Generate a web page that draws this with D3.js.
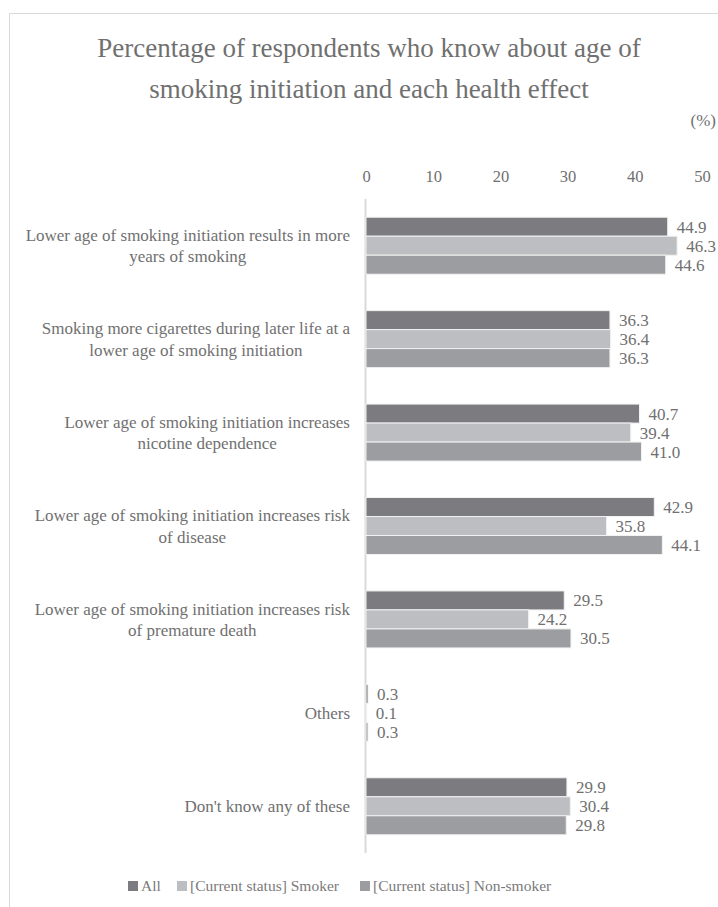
<!DOCTYPE html>
<html>
<head>
<meta charset="utf-8">
<script src="https://cdn.jsdelivr.net/npm/d3@7"></script>
<style>
  html, body { margin: 0; padding: 0; background: #fff; }
  svg { display: block; }
  svg text { font-family: "Liberation Serif", "Times New Roman", "DejaVu Serif", "Noto Serif", serif; }
</style>
</head>
<body>
<svg id="chart" width="718" height="907"></svg>
<script>
const categories = [
  ["Lower age of smoking initiation results in more", "years of smoking"],
  ["Smoking more cigarettes during later life at a", "lower age of smoking initiation"],
  ["Lower age of smoking initiation increases", "nicotine dependence"],
  ["Lower age of smoking initiation increases risk", "of disease"],
  ["Lower age of smoking initiation increases risk", "of premature death"],
  ["Others"],
  ["Don't know any of these"]
];
const seriesNames = ["All", "[Current status] Smoker", "[Current status] Non-smoker"];
const allValues       = [44.9, 36.3, 40.7, 42.9, 29.5, 0.3, 29.9];
const smokerValues    = [46.3, 36.4, 39.4, 35.8, 24.2, 0.1, 30.4];
const nonSmokerValues = [44.6, 36.3, 41.0, 44.1, 30.5, 0.3, 29.8];
const tickValues = [0, 10, 20, 30, 40, 50];
const colors = ["#7b7b80", "#bdbec2", "#9c9da1"];

const series = [allValues, smokerValues, nonSmokerValues];
const svg = d3.select("#chart");
const textColor = "#707070";

// outer frame
svg.append("path")
  .attr("d", "M9.5,907 V13.5 H718")
  .attr("fill", "none").attr("stroke", "#d9d9d9").attr("stroke-width", 1);

// title
const title = svg.append("text")
  .attr("text-anchor", "middle").attr("fill", "#707070")
  .attr("font-size", 27);
title.append("tspan").attr("x", 369).attr("y", 57).text("Percentage of respondents who know about age of");
title.append("tspan").attr("x", 369).attr("y", 98).text("smoking initiation and each health effect");

svg.append("text").attr("x", 716).attr("y", 126).attr("text-anchor", "end")
  .attr("fill", textColor).attr("font-size", 17).text("(%)");

const x = d3.scaleLinear().domain([0, 50]).range([366, 702]);
const y = d3.scaleBand().domain(d3.range(categories.length)).range([199, 853]).paddingInner(0.39).paddingOuter(0.195);
const yInner = d3.scaleBand().domain(d3.range(series.length)).range([0, y.bandwidth()]);

// top axis labels
const axis = d3.axisTop(x).tickValues(tickValues).tickSize(0).tickPadding(0).tickFormat(d3.format("d"));
const ax = svg.append("g").attr("transform", "translate(0,182)").call(axis);
ax.attr("font-family", null);
ax.select(".domain").remove();
ax.selectAll("text").attr("font-size", 16.5).attr("fill", textColor);

// vertical baseline
svg.append("line").attr("x1", x(0) - 0.5).attr("x2", x(0) - 0.5).attr("y1", 199).attr("y2", 853)
  .attr("stroke", "#d9d9d9").attr("stroke-width", 2);

// bars
series.forEach((vals, s) => {
  const g = svg.append("g");
  g.selectAll("rect").data(vals).join("rect")
    .attr("x", x(0))
    .attr("y", (d, i) => y(i) + yInner(s))
    .attr("width", d => x(d) - x(0))
    .attr("height", yInner.bandwidth())
    .attr("fill", colors[s])
    .attr("stroke", "#f2f2f2").attr("stroke-width", 1);
  g.selectAll("text").data(vals).join("text")
    .attr("x", d => x(d) + 9)
    .attr("y", (d, i) => y(i) + yInner(s) + yInner.bandwidth() / 2)
    .attr("dy", "0.35em")
    .attr("font-size", 17).attr("fill", textColor)
    .text(d => d.toFixed(1));
});

// category labels: block right-aligned to the axis, lines centred within the block
categories.forEach((lines, i) => {
  const cy = y(i) + y.bandwidth() / 2;
  const t = svg.append("text").attr("text-anchor", "middle").attr("font-size", 17).attr("fill", textColor);
  const lh = 21.5;
  const spans = lines.map((ln, k) => t.append("tspan")
    .attr("y", cy + (k - (lines.length - 1) / 2) * lh)
    .attr("dy", "0.35em").text(ln));
  const w = d3.max(spans, sp => sp.node().getComputedTextLength());
  spans.forEach(sp => sp.attr("x", 350 - w / 2));
});

// legend
const legendX = [128, 177, 360];
seriesNames.forEach((name, s) => {
  svg.append("rect").attr("x", legendX[s]).attr("y", 881).attr("width", 10).attr("height", 10).attr("fill", colors[s]);
  svg.append("text").attr("x", legendX[s] + 13).attr("y", 886).attr("dy", "0.35em")
    .attr("font-size", 15.5).attr("fill", "#7a7a7a").text(name);
});
</script>
</body>
</html>
